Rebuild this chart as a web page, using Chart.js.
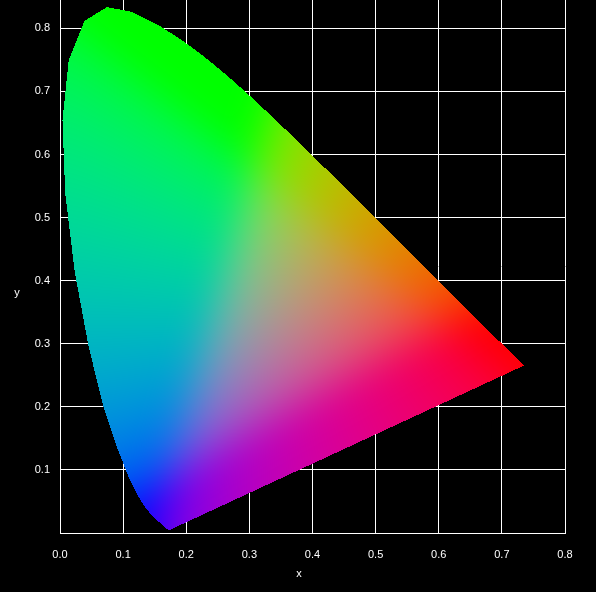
<!DOCTYPE html>
<html>
<head>
<meta charset="utf-8">
<script src="https://cdn.jsdelivr.net/npm/chart.js@4.4.1/dist/chart.umd.min.js"></script>
<style>
  html, body { margin: 0; padding: 0; background: #000; }
  #cie { display: block; }
</style>
</head>
<body>
<canvas id="cie" width="596" height="592"></canvas>
<script>
// spectral locus (nm -> x, y)
const wavelengths = [380, 390, 400, 410, 420, 430, 440, 450, 455, 460, 465, 470, 475, 480, 485, 490, 495,
  500, 505, 510, 515, 520, 525, 530, 535, 540, 545, 550, 555, 560, 565, 570, 575, 580, 585, 590, 595,
  600, 605, 610, 615, 620, 625, 630, 635, 640, 645, 650, 660, 670, 680, 690, 700];
const locusX = [0.1741, 0.1738, 0.1733, 0.1726, 0.1714, 0.1689, 0.1644, 0.1566, 0.1510, 0.1440, 0.1355, 0.1241, 0.1096, 0.0913, 0.0687, 0.0454, 0.0235,
  0.0082, 0.0039, 0.0139, 0.0389, 0.0743, 0.1142, 0.1547, 0.1929, 0.2296, 0.2658, 0.3016, 0.3373, 0.3731, 0.4087, 0.4441, 0.4788, 0.5125, 0.5448, 0.5752, 0.6029,
  0.6270, 0.6482, 0.6658, 0.6801, 0.6915, 0.7006, 0.7079, 0.7140, 0.7190, 0.7230, 0.7260, 0.7300, 0.7320, 0.7334, 0.7344, 0.7347];
const locusY = [0.0050, 0.0049, 0.0048, 0.0048, 0.0051, 0.0069, 0.0109, 0.0177, 0.0227, 0.0297, 0.0399, 0.0578, 0.0868, 0.1327, 0.2007, 0.2950, 0.4127,
  0.5384, 0.6548, 0.7502, 0.8120, 0.8338, 0.8262, 0.8059, 0.7816, 0.7543, 0.7243, 0.6923, 0.6589, 0.6245, 0.5896, 0.5547, 0.5202, 0.4866, 0.4544, 0.4242, 0.3965,
  0.3725, 0.3514, 0.3340, 0.3197, 0.3083, 0.2993, 0.2920, 0.2859, 0.2809, 0.2770, 0.2740, 0.2700, 0.2680, 0.2666, 0.2656, 0.2653];

const xTicks = [0, 0.1, 0.2, 0.3, 0.4, 0.5, 0.6, 0.7, 0.8];
const yTicks = [0.1, 0.2, 0.3, 0.4, 0.5, 0.6, 0.7, 0.8];
const xTitle = "x";
const yTitle = "y";

const FONT = "'Liberation Sans', Arial, sans-serif";
const BLUR = 20;

function gammaEncode(c) {
  return c <= 0.0031308 ? 12.92 * c : 1.055 * Math.pow(c, 1 / 2.4) - 0.055;
}

// chromaticity -> display colour (XYZ at Y=1, negatives clipped, rgb summed to 1)
function xyToRgb(x, y) {
  if (y < 0.003) y = 0.003;
  const X = x / y, Y = 1, Z = Math.max(1 - x - y, 0) / y;
  let r = 3.2406 * X - 1.5372 * Y - 0.4986 * Z;
  let g = -0.9689 * X + 1.8758 * Y + 0.0415 * Z;
  let b = 0.0557 * X - 0.2040 * Y + 1.0570 * Z;
  r = Math.max(r, 0); g = Math.max(g, 0); b = Math.max(b, 0);
  const s = r + g + b || 1;
  return [gammaEncode(r / s) * 255, gammaEncode(g / s) * 255, gammaEncode(b / s) * 255];
}

// running-sum box blur on one channel, rows then columns
function boxBlur(ch, w, h, r) {
  const tmp = new Float32Array(w * h);
  for (let j = 0; j < h; j++) {
    let acc = 0;
    const row = j * w;
    for (let i = -r; i <= r; i++) acc += ch[row + Math.min(w - 1, Math.max(0, i))];
    for (let i = 0; i < w; i++) {
      tmp[row + i] = acc / (2 * r + 1);
      acc += ch[row + Math.min(w - 1, i + r + 1)] - ch[row + Math.max(0, i - r)];
    }
  }
  for (let i = 0; i < w; i++) {
    let acc = 0;
    for (let j = -r; j <= r; j++) acc += tmp[Math.min(h - 1, Math.max(0, j)) * w + i];
    for (let j = 0; j < h; j++) {
      ch[j * w + i] = acc / (2 * r + 1);
      acc += tmp[Math.min(h - 1, j + r + 1) * w + i] - tmp[Math.max(0, j - r) * w + i];
    }
  }
}

const gamutFill = {
  id: "gamutFill",
  afterDatasetsDraw(chart) {
    const pts = chart.getDatasetMeta(0).data;
    const xs = chart.scales.x, ys = chart.scales.y;
    const area = chart.chartArea;
    const x0 = Math.floor(area.left), y0 = Math.floor(area.top);
    const w = Math.ceil(area.right) - x0, h = Math.ceil(area.bottom) - y0;
    const n = pts.length;

    // colour field over the whole plot area, then softened
    const R = new Float32Array(w * h), G = new Float32Array(w * h), B = new Float32Array(w * h);
    for (let j = 0; j < h; j++) {
      const dy = ys.getValueForPixel(y0 + j + 0.5);
      for (let i = 0; i < w; i++) {
        const c = xyToRgb(xs.getValueForPixel(x0 + i + 0.5), dy);
        const p = j * w + i;
        R[p] = c[0]; G[p] = c[1]; B[p] = c[2];
      }
    }
    for (let pass = 0; pass < 2; pass++) {
      boxBlur(R, w, h, BLUR); boxBlur(G, w, h, BLUR); boxBlur(B, w, h, BLUR);
    }

    const off = document.createElement("canvas");
    off.width = w; off.height = h;
    const octx = off.getContext("2d");
    const img = octx.createImageData(w, h);
    for (let j = 0; j < h; j++) {
      const cy = y0 + j + 0.5;
      const cross = [];
      for (let i = 0; i < n; i++) {
        const a = pts[i], b = pts[(i + 1) % n];
        if ((a.y <= cy) !== (b.y <= cy)) {
          cross.push(a.x + (cy - a.y) / (b.y - a.y) * (b.x - a.x));
        }
      }
      cross.sort((p, q) => p - q);
      for (let k = 0; k + 1 < cross.length; k += 2) {
        const from = Math.max(0, Math.ceil(cross[k] - 0.5 - x0));
        const to = Math.min(w - 1, Math.floor(cross[k + 1] - 0.5 - x0));
        for (let i = from; i <= to; i++) {
          const p = j * w + i;
          img.data[p * 4] = R[p];
          img.data[p * 4 + 1] = G[p];
          img.data[p * 4 + 2] = B[p];
          img.data[p * 4 + 3] = 255;
        }
      }
    }
    octx.putImageData(img, 0, 0);
    chart.ctx.drawImage(off, x0, y0);
  }
};

const axisTitles = {
  id: "axisTitles",
  afterDraw(chart) {
    const ctx = chart.ctx;
    ctx.save();
    ctx.fillStyle = "#fff";
    ctx.font = "11px " + FONT;
    ctx.textAlign = "center";
    ctx.textBaseline = "middle";
    ctx.fillText(xTitle, chart.width / 2 + 1, chart.chartArea.bottom + 41);
    ctx.fillText(yTitle, 17, chart.height / 2 - 3);
    ctx.restore();
  }
};

const points = wavelengths.map((nm, i) => ({ x: locusX[i], y: locusY[i] }));

const ctx = document.getElementById("cie").getContext("2d");
new Chart(ctx, {
  type: "scatter",
  data: {
    datasets: [{
      label: "spectral locus",
      data: points,
      showLine: true,
      borderWidth: 0,
      borderColor: "rgba(0,0,0,0)",
      pointRadius: 0
    }]
  },
  options: {
    responsive: false,
    animation: false,
    devicePixelRatio: 1,
    layout: { padding: { left: 0, right: 31, top: 0, bottom: 0 } },
    plugins: {
      legend: { display: false },
      tooltip: { enabled: false }
    },
    scales: {
      x: {
        type: "linear",
        min: 0,
        max: 0.8,
        z: 1,
        afterBuildTicks: s => { s.ticks = xTicks.map(v => ({ value: v })); },
        afterFit: s => { s.height = 59; s.paddingLeft = 0; s.paddingRight = 0; },
        grid: { color: "#fff", lineWidth: 1, drawTicks: false },
        border: { color: "#fff", width: 1 },
        ticks: {
          color: "#fff",
          font: { family: FONT, size: 11 },
          padding: 15,
          maxRotation: 0,
          autoSkip: false,
          callback: v => v.toFixed(1)
        }
      },
      y: {
        type: "linear",
        min: 0,
        max: 0.845,
        z: 1,
        afterBuildTicks: s => { s.ticks = yTicks.map(v => ({ value: v })); },
        afterFit: s => { s.width = 60; s.paddingTop = 0; s.paddingBottom = 0; },
        grid: { color: "#fff", lineWidth: 1, drawTicks: false },
        border: { color: "#fff", width: 1 },
        ticks: {
          color: "#fff",
          font: { family: FONT, size: 11 },
          padding: 10,
          autoSkip: false,
          callback: v => v.toFixed(1)
        }
      }
    }
  },
  plugins: [gamutFill, axisTitles]
});
</script>
</body>
</html>
